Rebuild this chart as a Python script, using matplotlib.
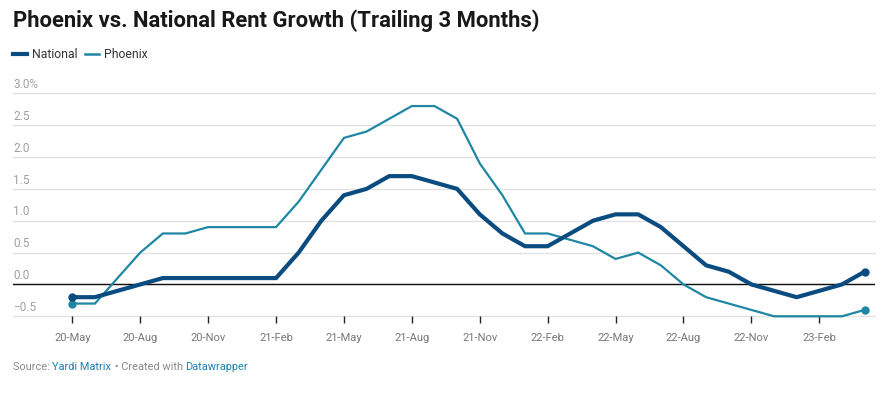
import matplotlib
matplotlib.use("Agg")
import matplotlib.pyplot as plt
import numpy as np

# -------------
# Data (monthly, 20-May .. 23-Apr)
# -------------
months = ["20-May", "20-Jun", "20-Jul", "20-Aug", "20-Sep", "20-Oct", "20-Nov", "20-Dec",
          "21-Jan", "21-Feb", "21-Mar", "21-Apr", "21-May", "21-Jun", "21-Jul", "21-Aug",
          "21-Sep", "21-Oct", "21-Nov", "21-Dec", "22-Jan", "22-Feb", "22-Mar", "22-Apr",
          "22-May", "22-Jun", "22-Jul", "22-Aug", "22-Sep", "22-Oct", "22-Nov", "22-Dec",
          "23-Jan", "23-Feb", "23-Mar", "23-Apr"]
national = [-0.2, -0.2, -0.1, 0.0, 0.1, 0.1, 0.1, 0.1, 0.1, 0.1, 0.5, 1.0,
            1.4, 1.5, 1.7, 1.7, 1.6, 1.5, 1.1, 0.8, 0.6, 0.6, 0.8, 1.0,
            1.1, 1.1, 0.9, 0.6, 0.3, 0.2, 0.0, -0.1, -0.2, -0.1, 0.0, 0.2]
phoenix = [-0.3, -0.3, 0.1, 0.5, 0.8, 0.8, 0.9, 0.9, 0.9, 0.9, 1.3, 1.8,
           2.3, 2.4, 2.6, 2.8, 2.8, 2.6, 1.9, 1.4, 0.8, 0.8, 0.7, 0.6,
           0.4, 0.5, 0.3, 0.0, -0.2, -0.3, -0.4, -0.5, -0.5, -0.5, -0.5, -0.4]
y_ticks = [-0.5, 0.0, 0.5, 1.0, 1.5, 2.0, 2.5, 3.0]
y_labels = ["\u22120.5", "0.0", "0.5", "1.0", "1.5", "2.0", "2.5", "3.0%"]

NAT_COLOR = "#0a4c80"
PHX_COLOR = "#1f87a3"
LINK_COLOR = "#1d81b8"

plt.rcParams["font.family"] = ["Roboto", "DejaVu Sans"]

W, H = 885, 395
fig = plt.figure(figsize=(W / 100, H / 100), dpi=100)
ax = fig.add_axes([13 / W, 1 - 316.3 / H, (875 - 13) / W, (316.3 - 93.3) / H])

x = np.arange(len(months))

# gridlines + zero line
for v in y_ticks:
    ax.axhline(v, color="#e3e3e3", lw=1, zorder=1, clip_on=False)
ax.axhline(0, color="#111111", lw=1, zorder=2)

ax.plot(x, phoenix, color=PHX_COLOR, lw=1.6, zorder=3, clip_on=False,
        solid_joinstyle="miter")
ax.plot(x, national, color=NAT_COLOR, lw=3.0, zorder=4, clip_on=False,
        solid_joinstyle="miter")
ax.plot([x[0], x[-1]], [phoenix[0], phoenix[-1]], "o", color=PHX_COLOR, ms=5,
        zorder=5, clip_on=False)
ax.plot([x[0], x[-1]], [national[0], national[-1]], "o", color=NAT_COLOR, ms=5,
        zorder=6, clip_on=False)

ax.set_ylim(-0.5, 3.0)
ax.set_xlim(-2.62, 35.46)

# y labels above the gridlines, left aligned
ax.set_yticks([])
for v, lab in zip(y_ticks, y_labels):
    ax.text(0, v + 0.035, lab, transform=ax.get_yaxis_transform(), ha="left",
            va="bottom", fontsize=8.5, color="#a0a0a0")

ax.set_xticks(x[::3])
ax.set_xticklabels(months[::3])
ax.tick_params(axis="x", length=5, width=1, color="#222222", labelsize=8,
               labelcolor="#777777", pad=7, direction="out")
for s in ax.spines.values():
    s.set_visible(False)

# title
fig.text(13 / W, 1 - 21 / H, "Phoenix vs. National Rent Growth (Trailing 3 Months)",
         ha="left", va="center", fontsize=15.8, fontweight="bold", color="#181818")

# legend
ly = 1 - 54 / H
fig.add_artist(plt.Line2D([13 / W, 27 / W], [ly, ly], color=NAT_COLOR, lw=3))
fig.text(32 / W, ly, "National", ha="left", va="center", fontsize=8.8, color="#333333")
fig.add_artist(plt.Line2D([85 / W, 99 / W], [ly, ly], color=PHX_COLOR, lw=1.8))
fig.text(104 / W, ly, "Phoenix", ha="left", va="center", fontsize=8.8, color="#333333")

# footer
fy = 1 - 367 / H
parts = [("Source: ", "#8a8a8a"), ("Yardi Matrix", LINK_COLOR),
         (" \u2022 Created with ", "#8a8a8a"), ("Datawrapper", LINK_COLOR)]
fig.canvas.draw()
renderer = fig.canvas.get_renderer()
xpos = 13 / W
for txt, col in parts:
    t = fig.text(xpos, fy, txt, ha="left", va="center", fontsize=7.9, color=col)
    bb = t.get_window_extent(renderer=renderer)
    xpos += bb.width / W

fig.savefig("out.png", dpi=100)
